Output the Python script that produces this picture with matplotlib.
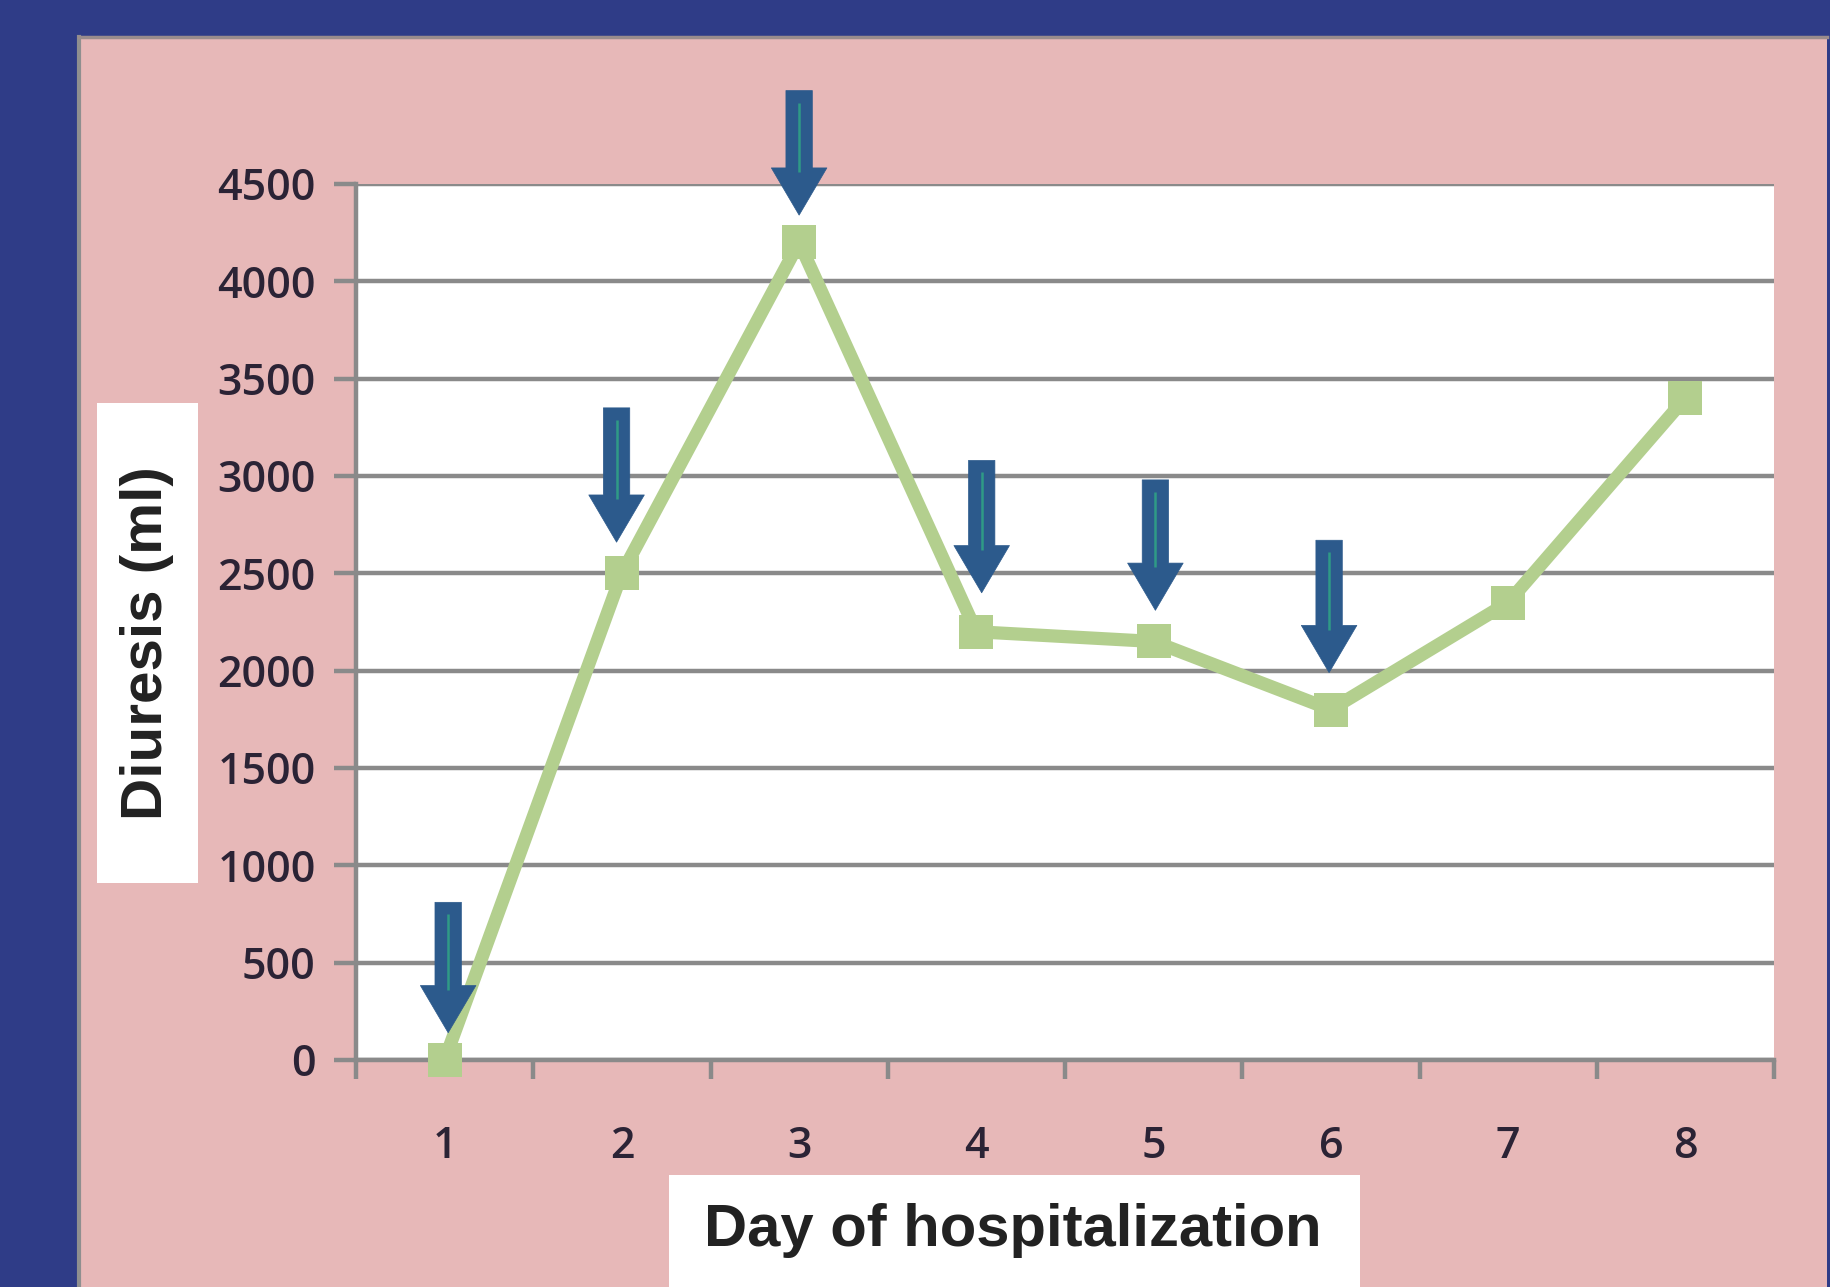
import matplotlib
matplotlib.use("Agg")
import matplotlib.pyplot as plt
from matplotlib.patches import Rectangle

# Daily diuresis values (ml) by day of hospitalization
days = [1, 2, 3, 4, 5, 6, 7, 8]
diuresis = [0, 2500, 4200, 2200, 2150, 1800, 2350, 3400]
day_labels = ["1", "2", "3", "4", "5", "6", "7", "8"]
y_ticks = [0, 500, 1000, 1500, 2000, 2500, 3000, 3500, 4000, 4500]

# Dose markers: arrow position (day), arrow top and tip (ml)
arrow_day = [1.02, 1.97, 3.0, 4.03, 5.01, 5.99]
arrow_top = [810, 3350, 4980, 3080, 2980, 2670]
arrow_tip = [140, 2660, 4340, 2400, 2310, 1990]

BG_BLUE = "#2f3c87"
PANEL_PINK = "#e7b8b8"
GRID_GRAY = "#8a8a8a"
LINE_GREEN = "#b3cf8e"
ARROW_BLUE = "#2c5a8c"
ARROW_CORE = "#2f9a86"
TICK_TEXT = "#2b2335"

W, H = 1830, 1287
fig = plt.figure(figsize=(W / 100, H / 100), dpi=100, facecolor=BG_BLUE)


def fx(px):
    return px / W


def fy(py):
    return 1 - py / H


# Pink panel with a grey top/left edge
fig.patches.append(Rectangle((fx(79), 0), fx(1827) - fx(79), fy(36),
                             transform=fig.transFigure, facecolor=PANEL_PINK,
                             edgecolor="none", zorder=-2))
fig.lines.append(plt.Line2D([fx(79), fx(79)], [0, fy(37)], transform=fig.transFigure,
                            color="#8f8f8f", lw=3, zorder=-1))
fig.lines.append(plt.Line2D([fx(79), fx(1827)], [fy(37), fy(37)], transform=fig.transFigure,
                            color="#9a8c8c", lw=2.5, zorder=-1))

ax = fig.add_axes([fx(356), fy(1060), fx(1774) - fx(356), fy(184) - fy(1060)])
ax.set_zorder(3)
ax.set_facecolor("white")
ax.set_xlim(0.5, 8.5)
ax.set_ylim(0, 4500)

# Horizontal gridlines
ax.set_yticks(y_ticks)
ax.set_yticklabels([str(v) for v in y_ticks])
ax.grid(axis="y", color=GRID_GRAY, lw=3.2)
ax.set_axisbelow(True)

# Category ticks sit between days
ax.set_xticks([d + 0.5 for d in [0] + days])
ax.set_xticklabels([])
ax.set_xticks(days, minor=True)
ax.set_xticklabels(day_labels, minor=True)
ax.tick_params(axis="x", which="major", length=14, width=3.2, color=GRID_GRAY, direction="out")
ax.tick_params(axis="x", which="minor", length=0, pad=47, labelsize=31, labelcolor=TICK_TEXT)
ax.tick_params(axis="y", length=16, width=3.2, color=GRID_GRAY, direction="out",
               pad=13, labelsize=31, labelcolor=TICK_TEXT)
for lab in ax.get_yticklabels() + ax.get_xticklabels(minor=True):
    lab.set_fontfamily("Open Sans")
    lab.set_fontweight("semibold")

for side in ["top", "right"]:
    ax.spines[side].set_visible(False)
for side in ["left", "bottom"]:
    ax.spines[side].set_color(GRID_GRAY)
    ax.spines[side].set_linewidth(3.2)

# Diuresis line
ax.plot(days, diuresis, color=LINE_GREEN, lw=9.5, marker="s", markersize=25,
        markeredgewidth=0, clip_on=False, zorder=3)

# Arrows marking the doses
fig.canvas.draw()
px_per_unit = (ax.transData.transform((0, 1))[1] - ax.transData.transform((0, 0))[1])
head_len_px = 47
for x, top, tip in zip(arrow_day, arrow_top, arrow_tip):
    ax.annotate("", xy=(x, tip), xytext=(x, top),
                arrowprops=dict(arrowstyle="simple,head_width=4.0,head_length=3.4,tail_width=1.9",
                                mutation_scale=10, fc=ARROW_BLUE, ec=ARROW_BLUE, lw=0.5,
                                shrinkA=0, shrinkB=0),
                annotation_clip=False, zorder=4)
    core_bottom = tip + (head_len_px - 4) / px_per_unit
    ax.plot([x, x], [top - 12 / px_per_unit, core_bottom], color=ARROW_CORE,
            lw=1.8, clip_on=False, zorder=5, solid_capstyle="butt")

# Axis titles on white boxes
fig.patches.append(Rectangle((fx(97), fy(883)), fx(198) - fx(97), fy(403) - fy(883),
                             transform=fig.transFigure, facecolor="white", edgecolor="none",
                             zorder=1))
fig.text(fx(147), fy(643), "Diuresis (ml)", rotation=90, ha="center", va="center",
         fontsize=42, fontweight="bold", family="Liberation Sans", color="#222222", zorder=2)

fig.patches.append(Rectangle((fx(669), 0), fx(1360) - fx(669), fy(1175),
                             transform=fig.transFigure, facecolor="white", edgecolor="none",
                             zorder=1))
fig.text(fx(1013), fy(1231), "Day of hospitalization", ha="center", va="center",
         fontsize=43, fontweight="bold", family="Liberation Sans", color="#222222", zorder=2)

fig.savefig("out.png", dpi=100, facecolor=BG_BLUE)
